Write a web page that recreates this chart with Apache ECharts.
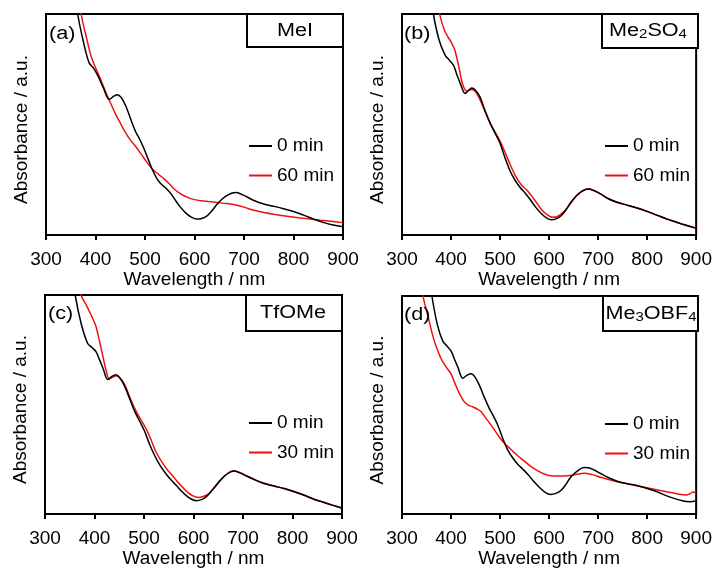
<!DOCTYPE html>
<html>
<head>
<meta charset="utf-8">
<script src="https://cdn.jsdelivr.net/npm/echarts@6/dist/echarts.min.js"></script>
<style>html,body{margin:0;padding:0;background:#fff;}#c{width:715px;height:569px;}</style>
</head>
<body>
<div id="c"></div>
<script>
// ---- data (wavelength nm, absorbance a.u. normalised 0..1 of the plot height) ----
const wlA0 = [355,364,376,387,396,405,416,428,437,444,452,461,471,481,490,498,507,515,524,532,542,552,562,572,582,592,605,616,626,636,646,656,666,676,684,695,707,720,740,760,780,800,820,841,860,880,900];
const absA0 = [1.15,1.0,0.87,0.78,0.755,0.72,0.665,0.614,0.628,0.635,0.622,0.585,0.525,0.468,0.43,0.39,0.34,0.295,0.255,0.232,0.212,0.188,0.155,0.125,0.1,0.083,0.072,0.076,0.088,0.112,0.14,0.163,0.179,0.19,0.192,0.184,0.171,0.156,0.14,0.13,0.119,0.106,0.09,0.072,0.057,0.045,0.037];
const wlA1 = [360,371,381,391,401,411,421,431,441,451,461,471,482,492,503,515,527,539,549,559,572,586,600,613,630,646,666,686,703,720,740,760,787,814,854,880,900];
const absA1 = [1.2,1.0,0.9,0.81,0.752,0.7,0.645,0.594,0.545,0.503,0.462,0.428,0.398,0.367,0.332,0.298,0.275,0.253,0.232,0.208,0.186,0.17,0.16,0.155,0.151,0.147,0.142,0.135,0.124,0.112,0.102,0.094,0.085,0.077,0.067,0.061,0.056];

const wlB0 = [355,364,376,388,397,405,412,419,429,436,442,450,459,469,480,490,500,510,520,530,541,551,561,573,585,595,604,614,624,634,644,656,668,680,692,705,720,739,760,780,800,820,841,860,880,900];
const absB0 = [1.15,1.0,0.88,0.814,0.79,0.768,0.725,0.685,0.64,0.655,0.665,0.655,0.625,0.565,0.505,0.46,0.415,0.35,0.292,0.25,0.215,0.19,0.162,0.125,0.095,0.077,0.069,0.073,0.086,0.112,0.147,0.178,0.199,0.208,0.2,0.186,0.165,0.148,0.135,0.122,0.107,0.09,0.072,0.058,0.044,0.031];
const wlB1 = [370,377,386,394,401,408,416,424,432,437,442,450,459,469,480,490,500,510,520,532,544,554,564,574,584,596,608,618,628,638,648,656,668,680,692,705,720,739,760,780,800,820,841,860,880,900];
const absB1 = [1.15,1.0,0.93,0.895,0.87,0.835,0.76,0.68,0.652,0.655,0.658,0.648,0.612,0.56,0.505,0.465,0.425,0.375,0.322,0.265,0.225,0.205,0.178,0.148,0.117,0.092,0.08,0.085,0.101,0.125,0.155,0.179,0.2,0.209,0.201,0.186,0.165,0.147,0.134,0.121,0.106,0.089,0.071,0.057,0.043,0.03];

const wlC0 = [352,361,373,386,395,403,410,417,427,435,443,451,461,471,481,491,501,511,522,533,545,555,566,576,586,596,606,616,626,638,650,663,675,682,694,707,724,741,762,782,802,822,843,862,880,900];
const absC0 = [1.15,1.0,0.87,0.78,0.76,0.742,0.705,0.667,0.614,0.628,0.636,0.622,0.583,0.527,0.47,0.425,0.379,0.32,0.265,0.22,0.182,0.156,0.129,0.104,0.083,0.068,0.061,0.066,0.08,0.11,0.144,0.175,0.193,0.197,0.188,0.174,0.156,0.141,0.128,0.117,0.103,0.087,0.068,0.054,0.041,0.027];
const wlC1 = [365,373,382,390,396,403,410,417,423,430,437,444,452,461,472,484,494,505,515,525,537,549,559,569,579,589,599,609,619,630,642,655,667,680,694,707,724,741,762,782,802,822,843,862,880,900];
const absC1 = [1.15,1.0,0.96,0.924,0.895,0.856,0.79,0.72,0.66,0.617,0.625,0.632,0.62,0.591,0.53,0.47,0.43,0.386,0.335,0.28,0.235,0.197,0.172,0.144,0.12,0.098,0.083,0.076,0.08,0.091,0.12,0.155,0.182,0.198,0.189,0.175,0.157,0.142,0.129,0.118,0.104,0.088,0.069,0.055,0.042,0.028];

const wlD0 = [352,361,372,383,392,400,407,414,424,433,441,449,458,468,478,487,495,505,515,526,536,546,556,568,580,592,603,614,624,634,644,658,671,680,692,705,725,745,779,813,847,874,887,900];
const absD0 = [1.15,1.0,0.87,0.794,0.77,0.748,0.71,0.673,0.623,0.637,0.643,0.628,0.59,0.535,0.485,0.447,0.41,0.35,0.297,0.257,0.229,0.207,0.184,0.152,0.123,0.1,0.09,0.095,0.108,0.135,0.169,0.198,0.214,0.213,0.202,0.186,0.163,0.146,0.131,0.108,0.078,0.06,0.057,0.06];
const wlD1 = [336,343,353,363,371,380,390,400,407,414,420,427,435,444,452,461,471,481,492,502,512,522,535,549,562,576,590,603,620,637,654,671,688,705,725,745,766,786,807,827,848,868,880,887,894,900];
const absD1 = [1.15,1.0,0.907,0.816,0.76,0.711,0.675,0.643,0.605,0.568,0.54,0.515,0.5,0.492,0.483,0.47,0.44,0.41,0.375,0.342,0.318,0.297,0.27,0.244,0.22,0.199,0.184,0.176,0.175,0.176,0.181,0.187,0.181,0.169,0.156,0.146,0.136,0.127,0.117,0.108,0.099,0.09,0.088,0.093,0.101,0.093];

const panelLabels = ['(a)', '(b)', '(c)', '(d)'];
const reagentLabels = ['{n|MeI}', '{n|Me}{s|2}{n|SO}{s|4}', '{n|TfOMe}', '{n|Me}{s|3}{n|OBF}{s|4}'];
const seriesNames = [['0 min', '60 min'], ['0 min', '60 min'], ['0 min', '30 min'], ['0 min', '30 min']];
const panelData = [[wlA0, absA0, wlA1, absA1], [wlB0, absB0, wlB1, absB1], [wlC0, absC0, wlC1, absC1], [wlD0, absD0, wlD1, absD1]];
const xMin = 300, xMax = 900, xStep = 100;

// ---- layout ----
const FONT = "'Liberation Sans', Arial, sans-serif";
const grids = [
  {left: 46, top: 14, width: 297, height: 221},
  {left: 402, top: 14, width: 296, height: 221},
  {left: 45, top: 295, width: 297, height: 221},
  {left: 402, top: 296, width: 296, height: 221}
];
const legendPos = [
  {left: 249, top: 136.5},
  {left: 605, top: 136.5},
  {left: 249, top: 413.5},
  {left: 605, top: 414.5}
];
const boxes = [
  {x: 247, y: 14, w: 96, h: 33, tx: 295, ty: 31},
  {x: 602, y: 14, w: 96, h: 34, tx: 648, ty: 31},
  {x: 246, y: 295, w: 96, h: 36, tx: 293, ty: 313},
  {x: 603, y: 296, w: 95, h: 35, tx: 651, ty: 314}
];
const labelPos = [[49, 34], [404, 34], [48, 314], [404, 315]];
const BLACK = '#000', RED = '#ee1111';

const zip = (a, b) => a.map((v, i) => [v, b[i]]);

const option = {
  animation: false,
  backgroundColor: '#fff',
  textStyle: {fontFamily: FONT},
  grid: grids.map(g => Object.assign({show: true, borderColor: '#000', borderWidth: 2, backgroundColor: 'transparent'}, g)),
  xAxis: grids.map((g, i) => ({
    gridIndex: i, type: 'value', min: xMin, max: xMax, interval: xStep,
    name: 'Wavelength / nm', nameLocation: 'middle', nameGap: 32,
    nameTextStyle: {fontSize: 19, color: '#000', fontFamily: FONT},
    axisLine: {show: true, lineStyle: {color: '#000', width: 2}},
    axisTick: {show: true, inside: false, length: 5, lineStyle: {color: '#000', width: 2}},
    axisLabel: {fontSize: 19, color: '#000', margin: 15, fontFamily: FONT},
    splitLine: {show: false}
  })),
  yAxis: grids.map((g, i) => ({
    gridIndex: i, type: 'value', min: 0, max: 1,
    name: 'Absorbance / a.u.', nameLocation: 'middle', nameGap: 15,
    nameTextStyle: {fontSize: 19, color: '#000', fontFamily: FONT, padding: [0, 10, 0, 0]},
    axisLine: {show: true, lineStyle: {color: '#000', width: 2}},
    axisTick: {show: false}, axisLabel: {show: false}, splitLine: {show: false}
  })),
  legend: legendPos.map((p, i) => ({
    orient: 'vertical', left: p.left, top: p.top, padding: 0, itemGap: 10.5,
    itemWidth: 23, itemHeight: 2, icon: 'rect',
    data: seriesNames[i],
    textStyle: {fontSize: 19, color: '#000', lineHeight: 19, fontFamily: FONT},
    selectedMode: false
  })),
  series: [],
  graphic: []
};

panelData.forEach((d, i) => {
  option.series.push({
    name: seriesNames[i][0], type: 'line', xAxisIndex: i, yAxisIndex: i,
    data: zip(d[0], d[1]), smooth: 0.35, showSymbol: false, clip: true,
    lineStyle: {color: BLACK, width: 1.5}, itemStyle: {color: BLACK}, z: 3
  });
  option.series.push({
    name: seriesNames[i][1], type: 'line', xAxisIndex: i, yAxisIndex: i,
    data: zip(d[2], d[3]), smooth: 0.35, showSymbol: false, clip: true,
    lineStyle: {color: RED, width: 1.5}, itemStyle: {color: RED}, z: 2
  });
  const b = boxes[i];
  option.graphic.push({
    type: 'rect', shape: {x: b.x, y: b.y, width: b.w, height: b.h},
    style: {fill: '#fff', stroke: '#000', lineWidth: 2}, z: 100
  });
  option.graphic.push({
    type: 'text', x: b.tx, y: b.ty, scaleX: 1.2, z: 101,
    style: {
      text: reagentLabels[i], align: 'center', verticalAlign: 'middle',
      textAlign: 'center', textVerticalAlign: 'middle', fill: '#000',
      rich: {
        n: {fontSize: 18, fontFamily: FONT, lineHeight: 20, fill: '#000', color: '#000'},
        s: {fontSize: 12.5, fontFamily: FONT, lineHeight: 8, verticalAlign: 'bottom', fill: '#000', color: '#000'}
      }
    }
  });
  option.graphic.push({
    type: 'text', x: labelPos[i][0], y: labelPos[i][1], scaleX: 1.2, z: 101,
    style: {text: panelLabels[i], font: '18px ' + FONT, fill: '#000',
      align: 'left', verticalAlign: 'middle', textAlign: 'left', textVerticalAlign: 'middle'}
  });
});

const chart = echarts.init(document.getElementById('c'), null, {renderer: 'canvas'});
chart.setOption(option);
</script>
</body>
</html>
